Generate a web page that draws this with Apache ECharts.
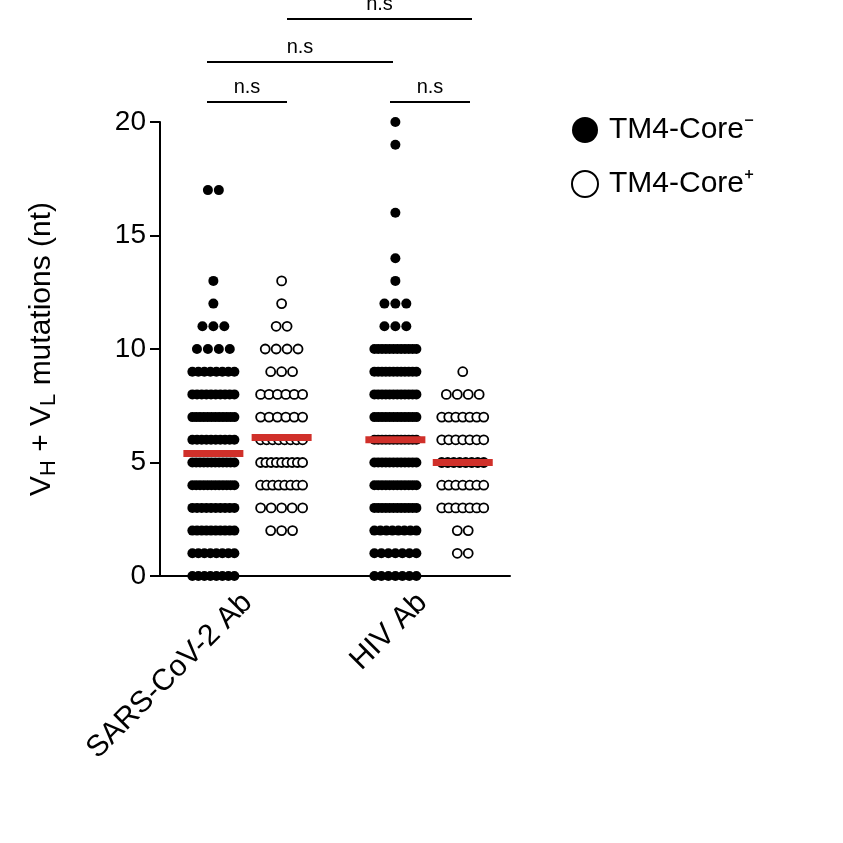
<!DOCTYPE html><html><head><meta charset="utf-8"><script src="https://cdn.jsdelivr.net/npm/echarts@6/dist/echarts.min.js"></script>
<style>body{margin:0}#c{width:843px;height:843px}</style></head><body><div id="c"></div><script>
const categories=['SARS-CoV-2 Ab','HIV Ab'];
const yTicks=[0,5,10,15,20];
// counts per mutation value [value, count]
const sarsNeg=[[17,2],[13,1],[12,1],[11,3],[10,4],[9,8],[8,10],[7,12],[6,10],[5,12],[4,12],[3,10],[2,10],[1,8],[0,8]];
const sarsPos=[[13,1],[12,1],[11,2],[10,4],[9,3],[8,6],[7,6],[6,8],[5,9],[4,8],[3,5],[2,3]];
const hivNeg=[[20,1],[19,1],[16,1],[14,1],[13,1],[12,3],[11,3],[10,12],[9,12],[8,12],[7,12],[6,12],[5,12],[4,12],[3,12],[2,8],[1,7],[0,7]];
const hivPos=[[9,1],[8,4],[7,7],[6,7],[5,8],[4,7],[3,7],[2,2],[1,2]];
const medians=[5.4,6.1,6.0,5.0];
const centers=[0.61,1.39,2.69,3.46];
const groups=[sarsNeg,sarsPos,hivNeg,hivPos];
function swarm(g,cx){const pts=[];g.forEach(([v,n])=>{const sp=Math.min(0.125,0.48/Math.max(n-1,1));for(let i=0;i<n;i++)pts.push([cx+(i-(n-1)/2)*sp,v]);});return pts;}
const font='Liberation Sans';
const series=[];
groups.forEach((g,i)=>{const filled=i%2===0;series.push({type:'scatter',name:filled?'TM4-Core⁻':'TM4-Core⁺',xAxisIndex:1,data:swarm(g,centers[i]),symbolSize:filled?10:9,
itemStyle:filled?{color:'#000',opacity:1}:{color:'#fff',borderColor:'#000',borderWidth:1.8,opacity:1},z:2});});
series.push({type:'scatter',xAxisIndex:1,symbol:'rect',symbolSize:[60,7],data:medians.map((m,i)=>[centers[i],m]),itemStyle:{color:'#d0302a',opacity:1},z:5,silent:true});
const chart=echarts.init(document.getElementById('c'));
const br=[[207,287,102],[207,393,62],[287,472,19],[390,470,102]];
const graphic=[];
br.forEach(([a,b,y])=>{graphic.push({type:'line',shape:{x1:a,y1:y,x2:b,y2:y},style:{stroke:'#000',lineWidth:2}});
graphic.push({type:'text',x:(a+b)/2,y:y-5,style:{text:'n.s',fontSize:20,fontFamily:font,fill:'#000',align:'center',verticalAlign:'bottom'}});});
chart.setOption({animation:false,backgroundColor:'#fff',
grid:{left:160,right:333,top:122,bottom:267},
legend:{left:566,top:110,orient:'vertical',itemGap:24,itemWidth:26,itemHeight:26,data:['TM4-Core⁻','TM4-Core⁺'],textStyle:{fontSize:30,fontFamily:font,color:'#000',padding:[0,0,0,6]}},
xAxis:[{type:'category',data:categories,position:'bottom',axisLine:{lineStyle:{color:'#000',width:2}},axisTick:{alignWithLabel:true,length:10,lineStyle:{width:2,color:'#000'}},
axisLabel:{rotate:45,fontSize:30,fontFamily:font,color:'#000',margin:22}},
{type:'value',min:0,max:4,show:false}],
yAxis:{type:'value',min:0,max:20,interval:5,name:'V{s|H} + V{s|L} mutations (nt)',nameLocation:'middle',nameGap:100,nameRotate:90,
nameTextStyle:{fontSize:30,fontFamily:font,color:'#000',rich:{s:{fontSize:22,fontFamily:font,color:'#000',padding:[14,0,0,0]}}},
axisLine:{show:true,lineStyle:{color:'#000',width:2}},axisTick:{show:true,length:10,lineStyle:{width:2,color:'#000'}},splitLine:{show:false},
axisLabel:{fontSize:28,fontFamily:font,color:'#000',margin:14,formatter:v=>yTicks.includes(v)?String(v):''}},
graphic:graphic,series:series});
</script></body></html>
